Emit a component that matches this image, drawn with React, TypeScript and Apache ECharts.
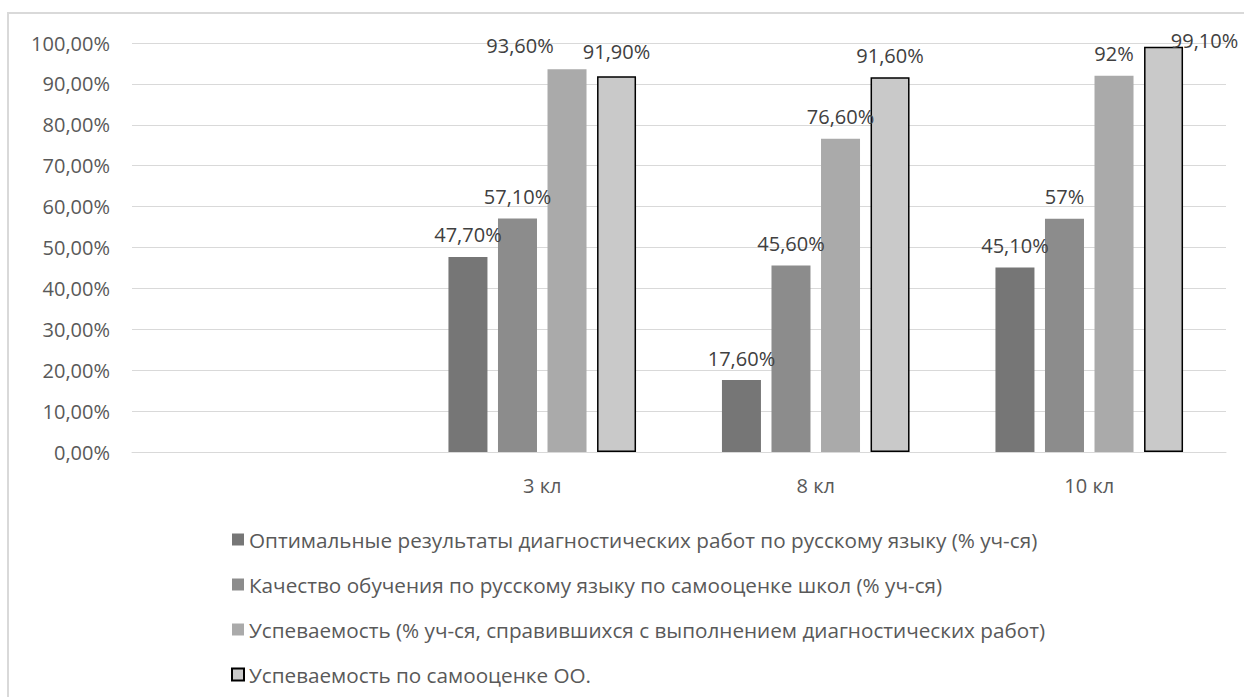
import React, { useEffect, useRef } from "react";
import * as echarts from "echarts";

const categories = ["", "3 кл", "8 кл", "10 кл"];
const seriesNames = [
  "Оптимальные результаты диагностических работ по русскому языку (% уч-ся)",
  "Качество обучения по русскому языку по самооценке школ (% уч-ся)",
  "Успеваемость (% уч-ся, справившихся с выполнением диагностических работ)",
  "Успеваемость по самооценке ОО.",
];
const optimalResults = [null, 47.7, 17.6, 45.1];
const qualitySelf = [null, 57.1, 45.6, 57];
const successDiag = [null, 93.6, 76.6, 92];
const successSelf = [null, 91.9, 91.6, 99.1];
const yTicks = { min: 0, max: 100, interval: 10 };

const colors = ["#767676", "#8c8c8c", "#aaaaaa", "#c9c9c9"];
const FONT = "'Open Sans', sans-serif";

// manual label nudges (series index, category index) -> [dx, dy]
const labelNudges: Record<string, number[]> = {
  "2-1": [-47, -2],
  "3-1": [0, -3],
  "3-3": [41, 16],
};

function fmtLabel(v: number): string {
  if (Number.isInteger(v)) return v + "%";
  return v.toFixed(2).replace(".", ",") + "%";
}

export default function App() {
  const ref = useRef<HTMLDivElement>(null);
  useEffect(() => {
    if (!ref.current) return;
    const chart = echarts.init(ref.current, undefined, { renderer: "svg" });
    const all = [optimalResults, qualitySelf, successDiag, successSelf];
    const series = all.map((arr, si) => ({
      name: seriesNames[si],
      type: "bar",
      barWidth: 39,
      barGap: "27%",
      itemStyle:
        si === 3
          ? { color: colors[si], borderColor: "#000000", borderWidth: 1.5 }
          : { color: colors[si] },
      label: {
        show: true,
        position: "top",
        distance: 12,
        color: "#404040",
        fontSize: 20,
        fontFamily: FONT,
        formatter: (p: any) => fmtLabel(p.value),
      },
      labelLayout: (params: any) => {
        const n = labelNudges[si + "-" + params.dataIndex];
        if (!n) return {};
        return { dx: n[0], dy: n[1] };
      },
      data: arr,
    }));
    chart.setOption({
      animation: false,
      backgroundColor: "#ffffff",
      graphic: [
        {
          type: "rect",
          silent: true,
          shape: { x: 8, y: 13, width: 1400, height: 900 },
          style: { fill: "none", stroke: "#d9d9d9", lineWidth: 2 },
          z: -1,
        },
      ],
      grid: { left: 132, right: 18, top: 43, bottom: 245 },
      xAxis: {
        type: "category",
        data: categories,
        axisLine: { lineStyle: { color: "#d9d9d9", width: 1 } },
        axisTick: { show: false },
        axisLabel: { color: "#595959", fontSize: 20, fontFamily: FONT, margin: 23 },
      },
      yAxis: {
        type: "value",
        min: yTicks.min,
        max: yTicks.max,
        interval: yTicks.interval,
        axisLine: { show: false },
        axisTick: { show: false },
        splitLine: { lineStyle: { color: "#d9d9d9", width: 1 } },
        axisLabel: {
          color: "#595959",
          fontSize: 20,
          fontFamily: FONT,
          margin: 22,
          formatter: (v: number) => v.toFixed(2).replace(".", ",") + "%",
        },
      },
      legend: {
        orient: "vertical",
        left: 226,
        top: 524,
        icon: "rect",
        itemWidth: 12,
        itemHeight: 12,
        itemGap: 24,
        textStyle: {
          color: "#595959",
          fontSize: 20.7,
          fontFamily: FONT,
          lineHeight: 21,
        },
        data: seriesNames,
      },
      series,
    });
    return () => chart.dispose();
  }, []);
  return (
    <div
      ref={ref}
      style={{ position: "fixed", left: 0, top: 0, width: 1244, height: 697 }}
    />
  );
}
